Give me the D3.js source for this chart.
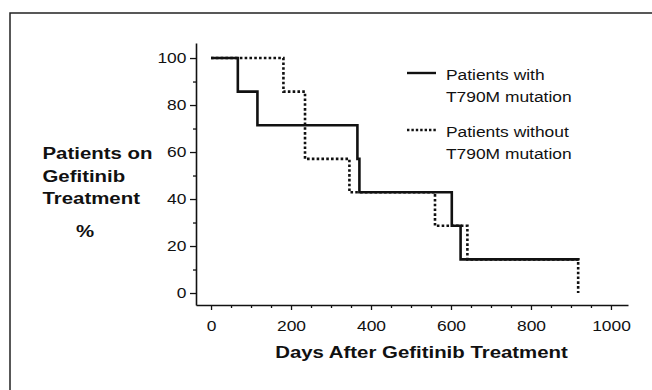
<!DOCTYPE html>
<html>
<head>
<meta charset="utf-8">
<script src="https://cdn.jsdelivr.net/npm/d3@7"></script>
<style>
  body { margin: 0; background: #fff; }
  text { font-family: "Liberation Sans", Arial, Helvetica, sans-serif; fill: #111; }
</style>
</head>
<body>
<div id="chart"></div>
<script>
// Kaplan-Meier style steps
const withDays = [0, 67, 116, 366, 371, 602, 624, 921];
const withPct = [100, 85.7, 71.4, 57.1, 42.9, 28.6, 14.3, 14.3];
const withoutDays = [0, 181, 235, 346, 560, 641, 918];
const withoutPct = [100, 85.7, 57.1, 42.9, 28.6, 14.3, 0];

const xTicks = [0, 200, 400, 600, 800, 1000];
const xMinorTicks = d3.range(50, 1050, 50).filter(d => d % 200 !== 0);
const yTicks = [0, 20, 40, 60, 80, 100];
const yMinorTicks = [10, 30, 50, 70, 90];

const legendLabels = [
  ['Patients with', 'T790M mutation'],
  ['Patients without', 'T790M mutation']
];
const yTitle = ['Patients on', 'Gefitinib', 'Treatment'];
const xTitle = 'Days After Gefitinib Treatment';

const W = 652, H = 390;
const stretch = 1.2; // the scan is a bit wide

const svg = d3.select('#chart').append('svg')
  .attr('width', W).attr('height', H);

svg.append('rect').attr('width', W).attr('height', H).attr('fill', '#fff');

// frame (only top and left edges are visible)
svg.append('path')
  .attr('d', 'M10,' + H + 'V13H' + W)
  .attr('fill', 'none').attr('stroke', '#222').attr('stroke-width', 1.5);

// scales, domains chosen so the axis lines run past the ticks
const x = d3.scaleLinear().domain([-37.6, 1042.6]).range([196, 628]);
const y = d3.scaleLinear().domain([-5.1, 106.4]).range([305, 43]);

function wideText(g, px, py, str, size, weight, anchor) {
  return g.append('text')
    .attr('transform', 'translate(' + px + ',' + py + ') scale(' + stretch + ',1)')
    .attr('text-anchor', anchor || 'start')
    .style('font-size', size + 'px')
    .style('font-weight', weight || 'normal')
    .text(str);
}

// x axis
const gx = svg.append('g').attr('transform', 'translate(0,' + y.range()[0] + ')');
gx.call(d3.axisBottom(x).tickValues(xTicks).tickFormat(d3.format('d'))
  .tickSizeInner(5).tickSizeOuter(0).tickPadding(12));
gx.append('g').call(d3.axisBottom(x).tickValues(xMinorTicks).tickSize(3).tickFormat(''))
  .select('.domain').remove();

// y axis
const gy = svg.append('g').attr('transform', 'translate(' + x.range()[0] + ',0)');
gy.call(d3.axisLeft(y).tickValues(yTicks).tickSizeInner(6).tickSizeOuter(0).tickPadding(2));
gy.append('g').call(d3.axisLeft(y).tickValues(yMinorTicks).tickSize(3).tickFormat(''))
  .select('.domain').remove();

svg.selectAll('.domain').attr('stroke', '#111').attr('stroke-width', 1.6);
svg.selectAll('.tick line').attr('stroke', '#111').attr('stroke-width', 1.3);
svg.selectAll('.tick text')
  .attr('fill', '#111')
  .style('font-size', '14.5px')
  .style('font-family', '"Liberation Sans", Arial, sans-serif')
  .attr('transform', 'scale(' + stretch + ',1)');
gx.selectAll('.tick text').attr('dy', '0.62em');

// curves
const line = d3.line()
  .x(d => x(d[0]))
  .y(d => y(d[1]))
  .curve(d3.curveStepAfter);

svg.append('path')
  .datum(withoutDays.map((d, i) => [d, withoutPct[i]]))
  .attr('d', line)
  .attr('fill', 'none')
  .attr('stroke', '#111')
  .attr('stroke-width', 2.6)
  .attr('stroke-dasharray', '2.6,2.2');

svg.append('path')
  .datum(withDays.map((d, i) => [d, withPct[i]]))
  .attr('d', line)
  .attr('fill', 'none')
  .attr('stroke', '#111')
  .attr('stroke-width', 2.6);

// legend
const legend = svg.append('g');
const legendY = [73, 130];
legendLabels.forEach(function (lab, i) {
  legend.append('line')
    .attr('x1', 407).attr('x2', 436)
    .attr('y1', legendY[i]).attr('y2', legendY[i])
    .attr('stroke', '#111')
    .attr('stroke-width', 2.4)
    .attr('stroke-dasharray', i === 1 ? '2.4,2' : null);
  wideText(legend, 446, legendY[i] + 7, lab[0], 14.5);
  wideText(legend, 446, legendY[i] + 29, lab[1], 14.5);
});

// axis titles
const yBase = [159, 181.7, 204];
yTitle.forEach(function (t, i) {
  wideText(svg, 42.5, yBase[i], t, 17, 'bold');
});
wideText(svg, 85, 237, '%', 17, 'bold', 'middle');

wideText(svg, 421.5, 358, xTitle, 17, 'bold', 'middle');
</script>
</body>
</html>
